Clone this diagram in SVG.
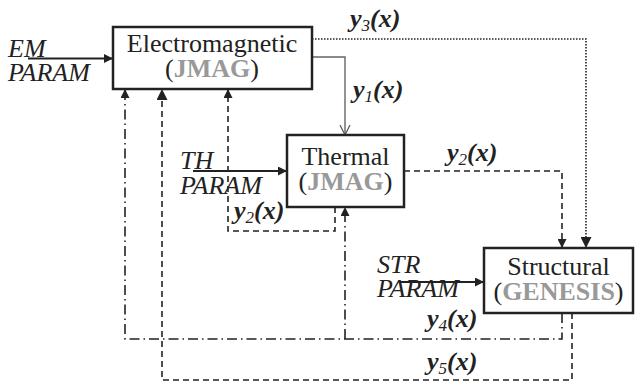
<svg xmlns="http://www.w3.org/2000/svg" width="635" height="385" viewBox="0 0 635 385">
<defs>
<marker id="af" viewBox="0 0 10 10" refX="10" refY="5" markerWidth="10" markerHeight="9" markerUnits="userSpaceOnUse" orient="auto"><path d="M0,0 L10,5 L0,10 Z" fill="#222"/></marker>
<marker id="afb" viewBox="0 0 10 10" refX="10" refY="5" markerWidth="14" markerHeight="11" markerUnits="userSpaceOnUse" orient="auto"><path d="M0,0 L10,5 L0,10 Z" fill="#222"/></marker>
<marker id="ao" viewBox="0 0 10 10" refX="10" refY="5" markerWidth="10" markerHeight="12" markerUnits="userSpaceOnUse" orient="auto"><path d="M0,0 L10,5 L0,10" fill="none" stroke="#555" stroke-width="1.2"/></marker>
</defs>
<style>
.box{fill:#fff;stroke:#222;stroke-width:2.5}
.t{font-family:'Liberation Serif','Times New Roman',serif;font-size:26px;fill:#222}
.g{font-weight:bold;fill:#999}
.i{font-style:italic}
.lab{font-family:'Liberation Serif','Times New Roman',serif;font-size:26px;fill:#222;font-style:italic;font-weight:bold}
.sub{font-size:17px;font-weight:normal}
.c{fill:none;stroke:#222;stroke-width:1.6}
.solid{stroke:#222;stroke-width:2}
.gray{stroke:#666;stroke-width:1.4}
.dot{stroke-dasharray:1.5 1.5}
.dash{stroke-dasharray:6 4}
.dd{stroke-dasharray:10 4 1.5 4}
</style>
<g id="connectors">
<path class="c solid" d="M28,58.5 H113" marker-end="url(#af)"/>
<path class="c solid" d="M193,171 H287" marker-end="url(#af)"/>
<path class="c solid" d="M400,282 H484" marker-end="url(#af)"/>
<path class="c gray" d="M312,57 H345 V135" marker-end="url(#ao)"/>
<path class="c dot" d="M312,39 H586 V248" marker-end="url(#afb)"/>
<path class="c dash" d="M404,171 H562 V248" marker-end="url(#af)"/>
<path class="c dash" d="M335,207 V231 H228 V89" marker-end="url(#af)"/>
<path class="c dd" d="M562,313 V339 H125 V89" marker-end="url(#af)"/>
<path class="c dd" d="M345,339 V207" marker-end="url(#af)"/>
<path class="c dash" d="M572,313 V380 H162 V89" marker-end="url(#afb)"/>
</g>
<g id="em">
<rect class="box" x="113" y="27" width="199" height="62"/>
<text class="t" x="212" y="52" text-anchor="middle">Electromagnetic</text>
<text class="t" x="212" y="77" text-anchor="middle">(<tspan class="g">JMAG</tspan>)</text>
</g>
<g id="thermal">
<rect class="box" x="287" y="135" width="117" height="72"/>
<text class="t" x="345.5" y="165" text-anchor="middle">Thermal</text>
<text class="t" x="345.5" y="190" text-anchor="middle">(<tspan class="g">JMAG</tspan>)</text>
</g>
<g id="structural">
<rect class="box" x="484" y="248" width="149" height="65"/>
<text class="t" x="558.5" y="275" text-anchor="middle">Structural</text>
<text class="t" x="558.5" y="300" text-anchor="middle">(<tspan class="g">GENESIS</tspan>)</text>
</g>
<g id="inputs">
<text class="t i" x="8" y="57">EM</text>
<text class="t i" x="8" y="81">PARAM</text>
<text class="t i" x="180" y="169">TH</text>
<text class="t i" x="180" y="194">PARAM</text>
<text class="t i" x="377" y="273">STR</text>
<text class="t i" x="377" y="297">PARAM</text>
</g>
<g id="labels">
<text class="lab" x="350" y="27">y<tspan class="sub" dy="4">3</tspan><tspan dy="-4">(x)</tspan></text>
<text class="lab" x="353" y="98">y<tspan class="sub" dy="4">1</tspan><tspan dy="-4">(x)</tspan></text>
<text class="lab" x="447" y="161">y<tspan class="sub" dy="4">2</tspan><tspan dy="-4">(x)</tspan></text>
<text class="lab" x="234" y="219">y<tspan class="sub" dy="4">2</tspan><tspan dy="-4">(x)</tspan></text>
<text class="lab" x="427" y="327">y<tspan class="sub" dy="4">4</tspan><tspan dy="-4">(x)</tspan></text>
<text class="lab" x="427" y="370">y<tspan class="sub" dy="4">5</tspan><tspan dy="-4">(x)</tspan></text>
</g>
</svg>
